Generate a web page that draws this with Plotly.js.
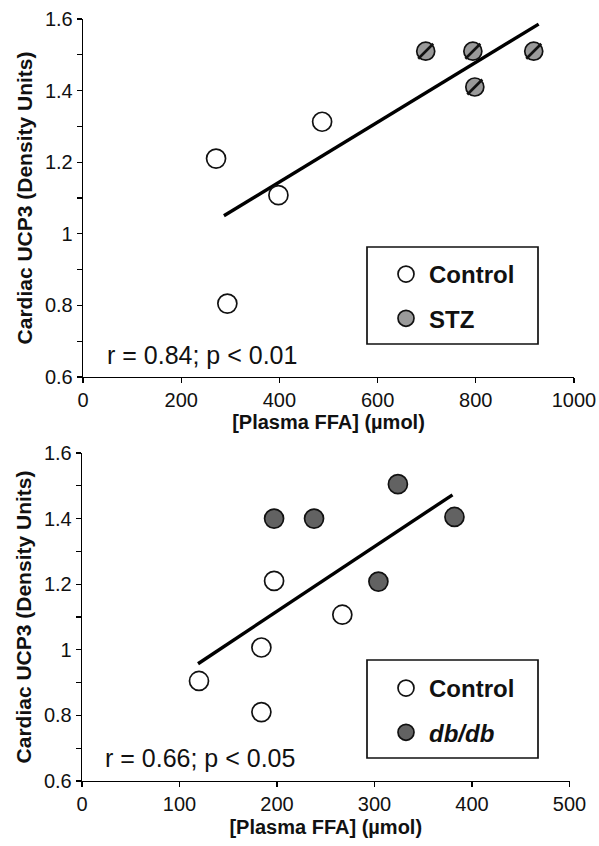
<!DOCTYPE html>
<html>
<head>
<meta charset="utf-8">
<script src="https://cdn.plot.ly/plotly-3.0.1.min.js"></script>
<style>html,body{margin:0;padding:0;background:#fff;}#chart{width:599px;height:846px;}</style>
</head>
<body>
<div id="chart"></div>
<script>
// ---- Top panel: Control vs STZ ----
var topControlX = [271, 294, 398, 487];
var topControlY = [1.21, 0.805, 1.108, 1.313];
var stzX = [698, 794, 798, 918];
var stzY = [1.51, 1.51, 1.41, 1.51];
var topFitRange = [287, 928];
var topStat = "r = 0.84; p < 0.01";

// ---- Bottom panel: Control vs db/db ----
var botControlX = [120, 184, 184, 197, 267];
var botControlY = [0.905, 0.81, 1.007, 1.21, 1.107];
var dbX = [197, 238, 324, 382, 304];
var dbY = [1.40, 1.40, 1.505, 1.405, 1.208];
var botFitRange = [119, 380];
var botStat = "r = 0.66; p < 0.05";

var xTitle = "[Plasma FFA] (µmol)";
var yTitle = "Cardiac UCP3 (Density Units)";

function fit(xs, ys, range) {
  var n = xs.length, mx = 0, my = 0;
  for (var i = 0; i < n; i++) { mx += xs[i]; my += ys[i]; }
  mx /= n; my /= n;
  var sxy = 0, sxx = 0;
  for (var j = 0; j < n; j++) { sxy += (xs[j]-mx)*(ys[j]-my); sxx += (xs[j]-mx)*(xs[j]-mx); }
  var b = sxy / sxx, a = my - b*mx;
  return {x: range.slice(), y: range.map(function(v){ return a + b*v; })};
}

var FONT = "Liberation Sans, Arial, sans-serif";
var topAllX = topControlX.concat(stzX), topAllY = topControlY.concat(stzY);
var botAllX = botControlX.concat(dbX), botAllY = botControlY.concat(dbY);
var topFit = fit(topAllX, topAllY, topFitRange);
var botFit = fit(botAllX, botAllY, botFitRange);

var openMarker = {symbol: 'circle', size: 19, color: '#ffffff', line: {color: '#111', width: 1.7}};

var traces = [
  {x: topFit.x, y: topFit.y, xaxis: 'x', yaxis: 'y', mode: 'lines', line: {color: '#000', width: 3.4}, showlegend: false, hoverinfo: 'skip'},
  {x: topControlX, y: topControlY, xaxis: 'x', yaxis: 'y', mode: 'markers', name: 'Control', legend: 'legend', legendgroup: 'a', marker: openMarker, cliponaxis: false},
  {x: stzX, y: stzY, xaxis: 'x', yaxis: 'y', mode: 'markers', name: 'STZ', legend: 'legend', legendgroup: 'b', marker: {symbol: 'circle', size: 18, color: '#9a9a9a', line: {color: '#111', width: 1.7}}, cliponaxis: false},
  {x: stzX, y: stzY, xaxis: 'x', yaxis: 'y', mode: 'markers', showlegend: false, hoverinfo: 'skip', marker: {symbol: 'line-ne', size: 15, color: '#111', line: {color: '#111', width: 2.6}}, cliponaxis: false},

  {x: botFit.x, y: botFit.y, xaxis: 'x2', yaxis: 'y2', mode: 'lines', line: {color: '#000', width: 3.4}, showlegend: false, hoverinfo: 'skip'},
  {x: botControlX, y: botControlY, xaxis: 'x2', yaxis: 'y2', mode: 'markers', name: 'Control', legend: 'legend2', legendgroup: 'c', marker: openMarker, cliponaxis: false},
  {x: dbX, y: dbY, xaxis: 'x2', yaxis: 'y2', mode: 'markers', name: '<i>db/db</i>', legend: 'legend2', legendgroup: 'd', marker: {symbol: 'circle', size: 19, color: '#626262', line: {color: '#111', width: 1.7}}, cliponaxis: false}
];

function xa(domain, range, dtick, standoff) {
  return {domain: domain, range: range, dtick: dtick, tick0: 0, ticks: 'outside', ticklen: 5, tickwidth: 1.3, tickcolor: '#000',
    showline: true, linecolor: '#000', linewidth: 1.3, showgrid: false, zeroline: false, fixedrange: true,
    tickfont: {family: FONT, size: 20, color: '#111'},
    title: {text: xTitle, font: {family: FONT, size: 20, color: '#111', weight: 'bold'}, standoff: standoff}};
}
function ya(domain, anchor) {
  return {domain: domain, range: [0.6, 1.6], tick0: 0.6, dtick: 0.2, ticks: 'outside', ticklen: 5, tickwidth: 1.3, tickcolor: '#000',
    minor: {dtick: 0.1, ticks: 'outside', ticklen: 5, tickwidth: 1.3, tickcolor: '#000', showgrid: false},
    showline: true, linecolor: '#000', linewidth: 1.3, showgrid: false, zeroline: false, fixedrange: true, anchor: anchor,
    tickfont: {family: FONT, size: 20, color: '#111'},
    title: {text: yTitle, font: {family: FONT, size: 21, color: '#111', weight: 'bold'}, standoff: 6}};
}

var W = 599, H = 846;
function px(v) { return v / W; }
function py(v) { return 1 - v / H; }

var xaxis = xa([px(83), px(574)], [0, 1000], 200, 3); xaxis.anchor = 'y';
var xaxis2 = xa([px(82), px(569.5)], [0, 500], 100, 5); xaxis2.anchor = 'y2';
var yaxis = ya([py(377), py(19)], 'x');
var yaxis2 = ya([py(781), py(453)], 'x2');

var legendBase = {xanchor: 'left', yanchor: 'top', bgcolor: 'rgba(0,0,0,0)', borderwidth: 0,
  font: {family: FONT, size: 24, color: '#111', weight: 'bold'}, traceorder: 'grouped', tracegroupgap: 10, itemwidth: 36};

var layout = {
  width: W, height: H, margin: {l: 0, r: 0, t: 0, b: 0},
  paper_bgcolor: '#fff', plot_bgcolor: '#fff', showlegend: true,
  xaxis: xaxis, yaxis: yaxis, xaxis2: xaxis2, yaxis2: yaxis2,
  legend: Object.assign({}, legendBase, {x: px(383), y: py(252)}),
  legend2: Object.assign({}, legendBase, {x: px(383), y: py(666)}),
  shapes: [
    {type: 'rect', xref: 'paper', yref: 'paper', x0: px(367), x1: px(538), y0: py(344), y1: py(247), line: {color: '#111', width: 1.7}, fillcolor: 'rgba(0,0,0,0)'},
    {type: 'rect', xref: 'paper', yref: 'paper', x0: px(367), x1: px(538), y0: py(758), y1: py(660), line: {color: '#111', width: 1.7}, fillcolor: 'rgba(0,0,0,0)'}
  ],
  annotations: [
    {text: topStat, xref: 'paper', yref: 'paper', x: px(105), y: py(355), xanchor: 'left', yanchor: 'middle', showarrow: false, font: {family: FONT, size: 25, color: '#111'}},
    {text: botStat, xref: 'paper', yref: 'paper', x: px(103), y: py(758), xanchor: 'left', yanchor: 'middle', showarrow: false, font: {family: FONT, size: 25, color: '#111'}}
  ]
};

Plotly.newPlot('chart', traces, layout, {displayModeBar: false, staticPlot: true});
</script>
</body>
</html>
